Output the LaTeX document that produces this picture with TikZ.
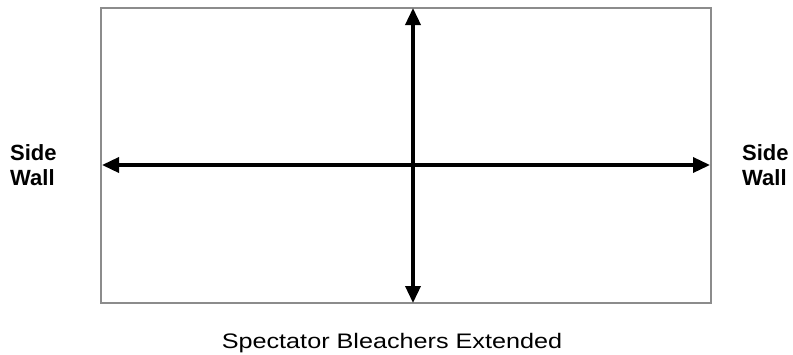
\documentclass[tikz,border=0pt]{standalone}
\usepackage{fontspec}
\setmainfont{Liberation Sans}
\newfontfamily\widefont[FakeStretch=1.2]{Liberation Sans}
\usetikzlibrary{arrows.meta}
\begin{document}
\begin{tikzpicture}[x=1pt,y=-1pt]
	\tikzstyle{wall}=[draw=black!45,line width=2.5pt]
	\tikzstyle{span}=[draw=black,line width=3.5pt,{Triangle[length=17pt,width=15pt]}-{Triangle[length=17pt,width=15pt]}]
	\tikzstyle{side}=[align=left,font=\bfseries\fontsize{22}{25}\selectfont,inner sep=0pt]
	\useasboundingbox (0,0) rectangle (793,354);
	\draw[wall] (101,8) rectangle (711,303);

	\coordinate (W) at (102,165);
	\coordinate (E) at (710,165);
	\coordinate (N) at (413,8);
	\coordinate (S) at (413,303);

	\node[side,anchor=west] (L1) at (10,165) {Side\\Wall};
	\node[side,anchor=west] (L2) at (742,165) {Side\\Wall};
	\node[anchor=base,inner sep=0pt,font=\widefont\fontsize{21}{25}\selectfont] (B) at (392,348) {Spectator Bleachers Extended};

	\draw[span] (W) -- (E);
	\draw[span] (N) -- (S);
\end{tikzpicture}
\end{document}
